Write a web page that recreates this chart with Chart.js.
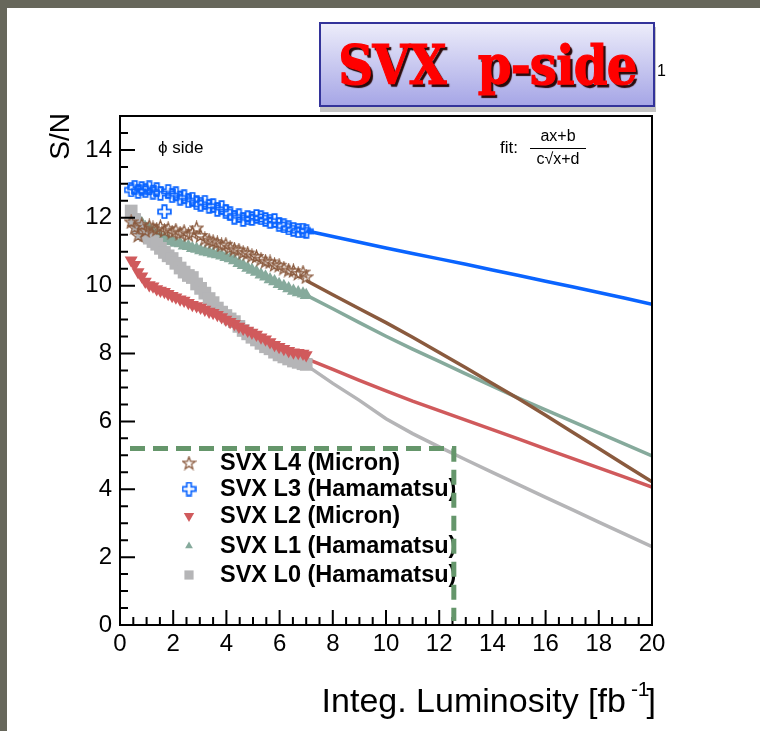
<!DOCTYPE html>
<html>
<head>
<meta charset="utf-8">
<title>SVX p-side S/N</title>
<script src="https://cdn.jsdelivr.net/npm/chart.js@4.4.0/dist/chart.umd.min.js"></script>
<style>
  body { margin: 0; background: #fff; }
  #wrap { position: relative; width: 760px; height: 731px; overflow: hidden; background: #fff; }
  #edgeTop { position: absolute; left: 0; top: 0; width: 760px; height: 8px; background: #67675b; }
  #edgeLeft { position: absolute; left: 0; top: 0; width: 7px; height: 731px; background: #67675b; }
  #plot { position: absolute; left: 0; top: 0; }
  #tail { position: absolute; left: 657px; top: 62px; font: 16px 'Liberation Sans', Arial, sans-serif; color: #000; }
  #badge {
    position: absolute; left: 319px; top: 22px; width: 332px; height: 81px;
    border: 2px solid #33339a;
    background: linear-gradient(#ececfa, #a6a6e6);
    box-shadow: 1px 5px 0 #c4c4c4;
    display: flex; align-items: center; justify-content: center;
  }
  #badge span {
    display: inline-block; white-space: pre;
    font: bold 55px 'DejaVu Serif', serif; color: #ff0000;
    -webkit-text-stroke: 1.2px #ff0000;
    text-shadow: 3px 3px 1px #2a0a0a;
    transform: scaleX(0.88); letter-spacing: -1px;
  }
</style>
</head>
<body>
<div id="wrap">
  <div id="edgeTop"></div>
  <div id="edgeLeft"></div>
  <canvas id="plot" width="760" height="731"></canvas>
  <div id="tail">1</div>
  <div id="badge"><span>SVX  p-side</span></div>
</div>
<script>
// integrated luminosity of the measured runs [fb^-1]
const lumi = [0.42, 0.55, 0.68, 0.82, 0.95, 1.10, 1.24, 1.38, 1.52, 1.67, 1.81, 1.96, 2.10, 2.26, 2.41,
  2.57, 2.72, 2.88, 3.03, 3.19, 3.35, 3.50, 3.66, 3.82, 3.98, 4.14, 4.30, 4.47, 4.63, 4.80, 4.96,
  5.13, 5.30, 5.47, 5.64, 5.81, 5.98, 6.16, 6.34, 6.52, 6.70, 6.88, 7.00]

// measured S/N per layer
const snL4 = [11.88, 11.72, 11.48, 11.80, 11.62, 11.76, 11.70, 11.66, 11.74, 11.62, 11.68, 11.58, 11.64, 11.55, 11.60,
  11.50, 11.56, 11.70, 11.48, 11.38, 11.34, 11.30, 11.26, 11.20, 11.22, 11.12, 11.08, 11.05, 10.98, 10.96, 10.88,
  10.86, 10.78, 10.72, 10.70, 10.62, 10.60, 10.52, 10.46, 10.44, 10.36, 10.40, 10.26]
const snL3 = [12.82, 12.90, 12.78, 12.86, 12.80, 12.88, 12.76, 12.83, 12.72, 12.18, 12.78, 12.65, 12.71, 12.58, 12.62,
  12.50, 12.55, 12.44, 12.40, 12.46, 12.34, 12.36, 12.25, 12.30, 12.18, 12.12, 12.02, 12.06, 11.95, 12.00, 11.98,
  12.04, 12.00, 11.95, 11.90, 11.92, 11.80, 11.76, 11.70, 11.66, 11.62, 11.64, 11.60]
const snL2 = [10.75, 10.62, 10.40, 10.28, 10.12, 10.02, 9.98, 9.90, 9.86, 9.82, 9.76, 9.70, 9.66, 9.60, 9.56,
  9.50, 9.44, 9.40, 9.36, 9.30, 9.24, 9.20, 9.14, 9.08, 9.00, 8.94, 8.88, 8.80, 8.74, 8.68, 8.62,
  8.56, 8.48, 8.42, 8.34, 8.26, 8.20, 8.14, 8.08, 8.04, 8.02, 8.00, 7.96]
const snL1 = [12.10, 12.02, 11.92, 11.84, 11.72, 11.66, 11.58, 11.52, 11.44, 11.38, 11.34, 11.30, 11.26, 11.24, 11.18,
  11.16, 11.10, 11.08, 11.04, 11.00, 10.98, 10.94, 10.92, 10.88, 10.84, 10.80, 10.74, 10.66, 10.60, 10.52, 10.46,
  10.40, 10.32, 10.26, 10.18, 10.12, 10.04, 9.98, 9.92, 9.84, 9.80, 9.76, 9.72]
const snL0 = [12.20, 11.95, 11.72, 11.55, 11.48, 11.40, 11.30, 11.22, 11.10, 10.98, 10.88, 10.80, 10.66, 10.52, 10.40,
  10.30, 10.24, 10.05, 9.92, 9.78, 9.62, 9.50, 9.34, 9.22, 9.12, 9.02, 8.94, 8.80, 8.68, 8.58, 8.48,
  8.40, 8.30, 8.20, 8.14, 8.04, 7.96, 7.90, 7.84, 7.78, 7.74, 7.70, 7.68]

// fit (ax+b)/(c*sqrt(x)+d) extrapolated to 20 fb^-1
const fitLumi = [7, 8, 9, 10, 11, 12, 13, 14, 15, 16, 17, 18, 19, 20]
const fitL4 = [10.15, 9.73, 9.32, 8.91, 8.48, 8.03, 7.58, 7.12, 6.66, 6.18, 5.69, 5.20, 4.71, 4.22]
const fitL3 = [11.62, 11.45, 11.28, 11.11, 10.95, 10.79, 10.63, 10.46, 10.30, 10.13, 9.97, 9.80, 9.63, 9.45]
const fitL2 = [7.85, 7.53, 7.21, 6.90, 6.60, 6.32, 6.04, 5.76, 5.48, 5.19, 4.91, 4.63, 4.35, 4.06]
const fitL1 = [9.72, 9.32, 8.91, 8.51, 8.13, 7.77, 7.40, 7.04, 6.68, 6.34, 6.00, 5.66, 5.32, 4.98]
const fitL0 = [7.66, 7.12, 6.62, 6.08, 5.64, 5.25, 4.87, 4.50, 4.13, 3.76, 3.40, 3.03, 2.67, 2.31]

const xTicks = [0, 2, 4, 6, 8, 10, 12, 14, 16, 18, 20]
const yTicks = [0, 2, 4, 6, 8, 10, 12, 14]
const layerNames = ['SVX L4 (Micron)', 'SVX L3 (Hamamatsu)', 'SVX L2 (Micron)', 'SVX L1 (Hamamatsu)', 'SVX L0 (Hamamatsu)']

const colL4 = '#8a5a3e'
const colL3 = '#0a64ff'
const colL2 = '#d05a5c'
const colL1 = '#86aa9c'
const colL0 = '#b5b5b7'

Chart.defaults.font.family = "'Liberation Sans', Arial, sans-serif"
Chart.defaults.color = '#000'

// open markers drawn once on small canvases
function openCross(color) {
  const c = document.createElement('canvas')
  c.width = 15; c.height = 15
  const g = c.getContext('2d')
  const m = 7.5, o = 6.4, i = 2.2
  g.strokeStyle = color; g.lineWidth = 1.7
  g.beginPath()
  g.moveTo(m - i, m - o); g.lineTo(m + i, m - o); g.lineTo(m + i, m - i); g.lineTo(m + o, m - i)
  g.lineTo(m + o, m + i); g.lineTo(m + i, m + i); g.lineTo(m + i, m + o); g.lineTo(m - i, m + o)
  g.lineTo(m - i, m + i); g.lineTo(m - o, m + i); g.lineTo(m - o, m - i); g.lineTo(m - i, m - i)
  g.closePath(); g.stroke()
  return c
}

function openStar(color) {
  const c = document.createElement('canvas')
  c.width = 15; c.height = 15
  const g = c.getContext('2d')
  g.strokeStyle = color; g.lineWidth = 1.3
  g.beginPath()
  for (let k = 0; k < 10; k++) {
    const r = k % 2 === 0 ? 6.6 : 2.7
    const a = -Math.PI / 2 + k * Math.PI / 5
    const px = 7.5 + r * Math.cos(a), py = 8 + r * Math.sin(a)
    k === 0 ? g.moveTo(px, py) : g.lineTo(px, py)
  }
  g.closePath(); g.stroke()
  return c
}

const starL4 = openStar(colL4)
const crossL3 = openCross(colL3)

const pts = (xs, ys) => xs.map((v, k) => ({ x: v, y: ys[k] }))

function runs(label, ys, color, style, extra) {
  return Object.assign({
    label: label,
    data: pts(lumi, ys),
    showLine: false,
    pointStyle: style,
    pointRadius: 7.5,
    pointBackgroundColor: color,
    pointBorderColor: color,
    pointBorderWidth: 0
  }, extra)
}

function fit(ys, color, order) {
  return {
    label: 'fit',
    data: pts(fitLumi, ys),
    showLine: true,
    borderColor: color,
    borderWidth: 3.5,
    pointRadius: 0,
    order: order
  }
}

// axes frame, inward ticks, annotations and the legend
const decor = {
  id: 'decor',
  afterDatasetsDraw(chart) {
    const { ctx, chartArea: a, scales: { x, y } } = chart
    ctx.save()

    ctx.strokeStyle = '#000'
    ctx.lineWidth = 2
    ctx.strokeRect(a.left, a.top, a.right - a.left, a.bottom - a.top)
    ctx.beginPath()
    for (let v = 0; v <= 20; v += 0.5) {
      const px = x.getPixelForValue(v)
      const len = v % 2 === 0 ? 15 : 8
      ctx.moveTo(px, a.bottom); ctx.lineTo(px, a.bottom - len)
    }
    for (let v = 0; v <= 15; v += 0.5) {
      const py = y.getPixelForValue(v)
      const len = v % 2 === 0 ? 15 : 8
      ctx.moveTo(a.left, py); ctx.lineTo(a.left + len, py)
    }
    ctx.stroke()

    // axis titles
    ctx.fillStyle = '#000'
    ctx.textBaseline = 'alphabetic'
    ctx.font = "34px 'Liberation Sans', Arial, sans-serif"
    const main = 'Integ. Luminosity [fb'
    const wMain = ctx.measureText(main).width
    ctx.font = "21px 'Liberation Sans', Arial, sans-serif"
    const wSup = ctx.measureText('-1').width
    ctx.font = "34px 'Liberation Sans', Arial, sans-serif"
    const wEnd = ctx.measureText(']').width
    const x0 = 656 - (wMain + 5 + wSup + wEnd - 3)
    ctx.textAlign = 'left'
    ctx.fillText(main, x0, 712)
    ctx.fillText(']', x0 + wMain + 5 + wSup - 3, 712)
    ctx.font = "21px 'Liberation Sans', Arial, sans-serif"
    ctx.fillText('-1', x0 + wMain + 5, 696)

    ctx.save()
    ctx.translate(61, 113)
    ctx.rotate(-Math.PI / 2)
    ctx.font = "28px 'Liberation Sans', Arial, sans-serif"
    ctx.textAlign = 'right'
    ctx.textBaseline = 'middle'
    ctx.fillText('S/N', 0, 0)
    ctx.restore()

    // side label and fit function
    ctx.font = "17px 'Liberation Sans', Arial, sans-serif"
    ctx.textAlign = 'left'
    ctx.textBaseline = 'middle'
    ctx.fillText('\u03d5 side', 158, 148)
    ctx.fillText('fit:', 500, 148)
    ctx.font = "16px 'Liberation Sans', Arial, sans-serif"
    ctx.textAlign = 'center'
    ctx.fillText('ax+b', 558, 137)
    ctx.fillText('c\u221ax+d', 558, 160)
    ctx.lineWidth = 1.2
    ctx.beginPath(); ctx.moveTo(530, 148.5); ctx.lineTo(586, 148.5); ctx.stroke()

    // legend
    const sets = chart.data.datasets
    const rowY = [463, 489, 516, 546, 575]
    layerNames.forEach((name, k) => {
      const ds = sets[k]
      ctx.fillStyle = ds.pointBackgroundColor
      ctx.strokeStyle = ds.pointBorderColor
      Chart.helpers.drawPoint(ctx, {
        pointStyle: ds.pointStyle, rotation: ds.pointRotation || 0,
        radius: k === 3 ? 4.5 : (k === 4 ? 6.5 : 6), borderWidth: 0
      }, 189, rowY[k])
      ctx.fillStyle = '#000'
      ctx.font = "bold 23.5px 'Liberation Sans', Arial, sans-serif"
      ctx.textAlign = 'left'
      ctx.textBaseline = 'middle'
      ctx.fillText(name, 220, rowY[k] + 1)
    })

    // dashed box around the legend
    ctx.strokeStyle = '#65966b'
    ctx.lineWidth = 5
    ctx.setLineDash([15, 8])
    const bx = x.getPixelForValue(12.55), by = y.getPixelForValue(5.2)
    ctx.beginPath()
    ctx.moveTo(130, by); ctx.lineTo(bx, by); ctx.lineTo(bx, a.bottom - 4)
    ctx.stroke()
    ctx.restore()
  }
}

new Chart(document.getElementById('plot').getContext('2d'), {
  type: 'scatter',
  data: {
    datasets: [
      runs('SVX L4 (Micron)', snL4, colL4, starL4, { order: 2 }),
      runs('SVX L3 (Hamamatsu)', snL3, colL3, crossL3, { order: 1 }),
      runs('SVX L2 (Micron)', snL2, colL2, 'triangle', { order: 3, pointRotation: 180 }),
      runs('SVX L1 (Hamamatsu)', snL1, colL1, 'triangle', { order: 5 }),
      runs('SVX L0 (Hamamatsu)', snL0, colL0, 'rect', { order: 4, pointRadius: 9 }),
      fit(fitL4, colL4, 7),
      fit(fitL3, colL3, 6),
      fit(fitL2, colL2, 8),
      fit(fitL1, colL1, 9),
      fit(fitL0, colL0, 10)
    ]
  },
  options: {
    responsive: false,
    animation: false,
    events: [],
    layout: { padding: { top: 116, right: 108, left: 0, bottom: 0 } },
    plugins: { legend: { display: false }, tooltip: { enabled: false } },
    scales: {
      x: {
        type: 'linear', min: 0, max: 20,
        grid: { display: false, drawTicks: false, tickLength: 0 }, border: { display: false },
        afterBuildTicks: s => { s.ticks = xTicks.map(v => ({ value: v })) },
        afterFit: s => { s.height = 106 },
        ticks: { font: { size: 24 }, padding: 5, maxRotation: 0, autoSkip: false }
      },
      y: {
        type: 'linear', min: 0, max: 15,
        grid: { display: false, drawTicks: false, tickLength: 0 }, border: { display: false },
        afterBuildTicks: s => { s.ticks = yTicks.map(v => ({ value: v })) },
        afterFit: s => { s.width = 120 },
        ticks: { font: { size: 24 }, padding: 8, autoSkip: false }
      }
    }
  },
  plugins: [decor]
})
</script>
</body>
</html>
